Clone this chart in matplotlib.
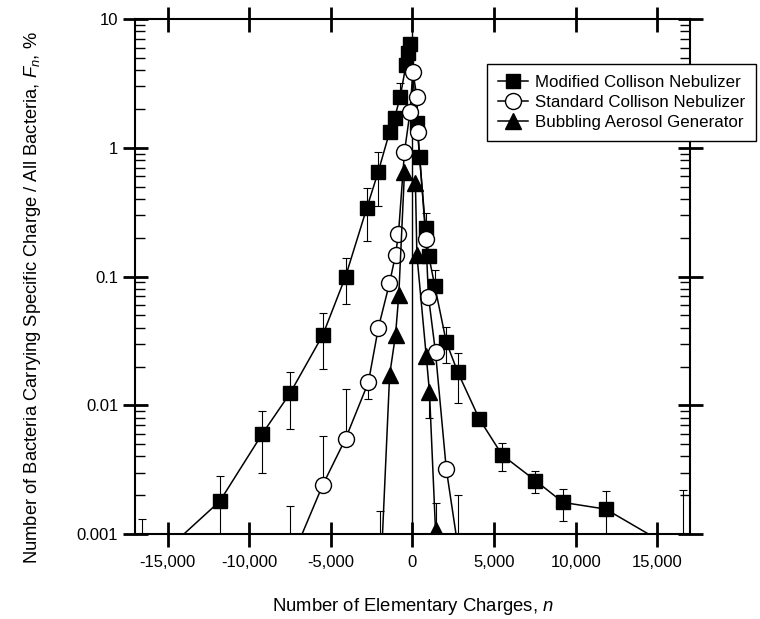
import numpy as np
import matplotlib
matplotlib.use("Agg")
import matplotlib.pyplot as plt
from matplotlib.ticker import FixedLocator, FuncFormatter, LogLocator, NullLocator

plt.rcParams['font.family'] = ['Liberation Sans', 'DejaVu Sans']
plt.rcParams['mathtext.fontset'] = 'custom'
plt.rcParams['mathtext.it'] = 'Liberation Sans:italic'
plt.rcParams['mathtext.rm'] = 'Liberation Sans'

# Modified Collison Nebulizer (squares): x, value, upper and lower bar ends
sq_x = [-16600, -11800, -9200, -7500, -5500, -4100, -2800, -2100, -1400, -1100,
        -750, -400, -250, -150, 270, 430, 800, 1000, 1370, 2070, 2780, 4100,
        5500, 7530, 9220, 11840, 16550]
sq_y = [0.0005, 0.0018, 0.006, 0.0124, 0.035, 0.10, 0.34, 0.65, 1.33, 1.69,
        2.5, 4.4, 5.4, 6.4, 1.55, 0.85, 0.237, 0.144, 0.084, 0.031, 0.018, 0.0078,
        0.0041, 0.0026, 0.00176, 0.00156, 0.0007]
sq_hi = [0.0013, 0.0028, 0.009, 0.018, 0.052, 0.138, 0.49, 0.93, 1.33, 1.69,
         3.2, 4.4, 5.4, 6.4, 1.55, 0.85, 0.31, 0.144, 0.112, 0.0407, 0.0256, 0.0078,
         0.0051, 0.0031, 0.00225, 0.00216, 0.0022]
sq_lo = [0.0005, 0.0008, 0.003, 0.0065, 0.019, 0.061, 0.19, 0.35, 1.33, 1.69,
         2.5, 4.4, 5.4, 6.4, 1.55, 0.85, 0.237, 0.144, 0.084, 0.0214, 0.0105, 0.0078,
         0.0031, 0.0021, 0.00127, 0.0008, 0.0007]

# Standard Collison Nebulizer (open circles)
ci_x = [-7500, -5500, -4100, -2700, -2090, -1410, -1040, -860, -490, -150, 20,
        270, 330, 820, 980, 1410, 2070, 2780]
ci_y = [0.0006, 0.0024, 0.0055, 0.0151, 0.040, 0.0885, 0.147, 0.214, 0.93, 1.9,
        3.9, 2.49, 1.33, 0.194, 0.0697, 0.0258, 0.0032, 0.0008]
ci_hi = [0.00165, 0.0058, 0.0134, 0.0151, 0.040, 0.0885, 0.147, 0.214, 0.93, 1.9,
         3.9, 2.49, 1.33, 0.194, 0.0697, 0.0258, 0.0032, 0.002]
ci_lo = [0.0006, 0.0024, 0.0055, 0.0112, 0.040, 0.0885, 0.147, 0.214, 0.93, 1.9,
         3.9, 2.49, 1.33, 0.194, 0.0697, 0.0258, 0.0032, 0.0008]

# Bubbling Aerosol Generator (filled triangles)
tr_x = [-2020, -1400, -1040, -840, -490, 180, 270, 840, 1040, 1410]
tr_y = [0.0003, 0.0172, 0.0351, 0.0718, 0.652, 0.53, 0.147, 0.0243, 0.0127, 0.00107]
tr_hi = [0.0015, 0.0172, 0.0351, 0.0718, 0.652, 0.53, 0.147, 0.0243, 0.0127, 0.00175]
tr_lo = [0.0003, 0.0172, 0.0351, 0.0718, 0.652, 0.53, 0.147, 0.0243, 0.008, 0.00107]

x_ticks = [-15000, -10000, -5000, 0, 5000, 10000, 15000]
y_ticks = [0.001, 0.01, 0.1, 1, 10]

fig = plt.figure(figsize=(7.6, 6.19), dpi=100)
ax = fig.add_axes([0.1776, 0.1373, 0.7303, 0.832])

series = [
    (sq_x, sq_y, sq_hi, sq_lo, 's', 'black', 10.5, 'Modified Collison Nebulizer'),
    (ci_x, ci_y, ci_hi, ci_lo, 'o', 'white', 11.5, 'Standard Collison Nebulizer'),
    (tr_x, tr_y, tr_hi, tr_lo, '^', 'black', 11, 'Bubbling Aerosol Generator'),
]

for x, y, hi, lo, m, fc, ms, lab in series:
    y = np.array(y)
    yerr = [y - np.array(lo), np.array(hi) - y]
    ax.errorbar(x, y, yerr=yerr, fmt='none', ecolor='black', elinewidth=0.8,
                capsize=3.2, capthick=0.8, zorder=2)
    ax.plot(x, y, color='black', lw=1.1, marker=m, markersize=ms,
            markerfacecolor=fc, markeredgecolor='black', markeredgewidth=1.0,
            label=lab, zorder=3)

ax.axvline(0, color='black', lw=1.0, zorder=1)

ax.set_yscale('log')
ax.set_xlim(-17000, 17000)
ax.set_ylim(0.001, 10)

ax.xaxis.set_major_locator(FixedLocator(x_ticks))
ax.xaxis.set_minor_locator(NullLocator())
ax.xaxis.set_major_formatter(FuncFormatter(lambda v, p: f"{v:,.0f}"))
ax.yaxis.set_major_locator(FixedLocator(y_ticks))
ax.yaxis.set_minor_locator(LogLocator(base=10, subs=np.arange(2, 10)))
ax.yaxis.set_major_formatter(FuncFormatter(lambda v, p: f"{v:g}"))

ax.tick_params(which='major', direction='inout', length=18, width=2,
               top=True, right=True, labelsize=12)
ax.tick_params(axis='x', which='major', pad=6)
ax.tick_params(axis='y', which='major', pad=3)
ax.tick_params(axis='y', which='minor', direction='in', length=7, width=1,
               left=True, right=True)
for s in ax.spines.values():
    s.set_linewidth(1.5)

ax.set_xlabel('Number of Elementary Charges, $n$', fontsize=13.3, labelpad=19)
ax.set_ylabel('Number of Bacteria Carrying Specific Charge / All Bacteria, $F_n$, %',
              fontsize=13.2)
ax.yaxis.set_label_coords(-0.165, 0.46)

leg = ax.legend(loc='upper left', bbox_to_anchor=(0.634, 0.913), fontsize=12.2,
                frameon=True, fancybox=False, edgecolor='black', framealpha=1,
                handlelength=1.8, labelspacing=0.3, borderpad=0.65,
                handletextpad=0.4, borderaxespad=0)
leg.get_frame().set_linewidth(1.0)

fig.savefig('out.png', dpi=100)
